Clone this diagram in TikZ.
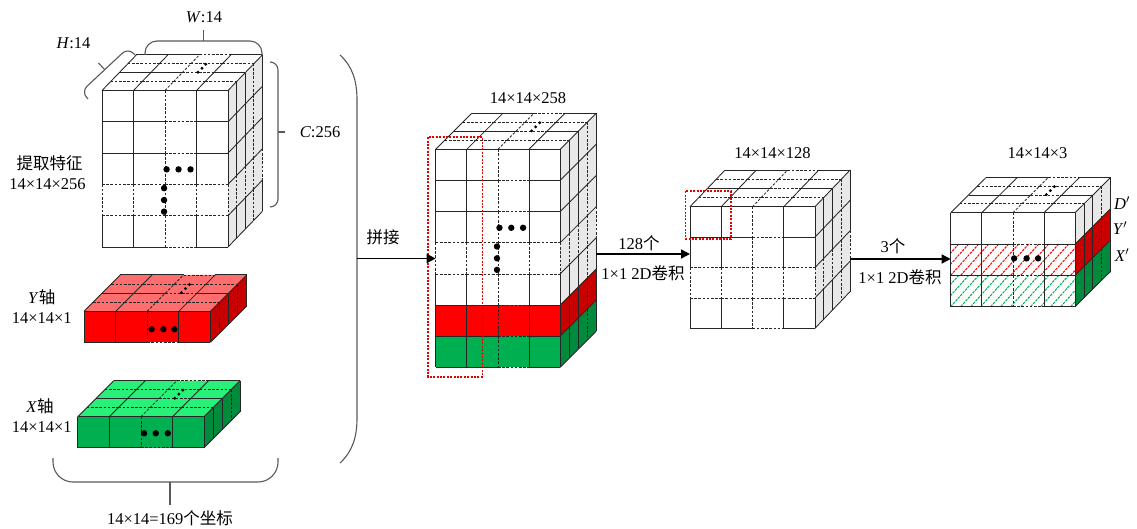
\documentclass[tikz,border=0pt]{standalone}
\usepackage{fontspec}
\setmainfont{Liberation Serif}
\newfontfamily\cjk{Noto Sans CJK SC}
\usetikzlibrary{arrows.meta}

\definecolor{rfront}{RGB}{255,0,0}
\definecolor{rtop}{RGB}{255,110,110}
\definecolor{rside}{RGB}{200,0,0}
\definecolor{gfront}{RGB}{0,176,80}
\definecolor{gtop}{RGB}{40,240,120}
\definecolor{gside}{RGB}{0,138,60}
\definecolor{sgray}{RGB}{232,232,232}

\tikzset{
  gs/.style={draw=black!85, line width=0.85pt},
  gd/.style={draw=black!85, line width=0.8pt, dash pattern=on 2.6pt off 1.6pt},
  brk/.style={draw=black!65, line width=1.1pt},
  flow/.style={draw=black, line width=1.4pt, -{Triangle[length=9pt,width=9pt]}},
  sel/.style={draw=red!90!black, line width=1.6pt, dash pattern=on 2pt off 1.4pt},
  lbl/.style={font=\fontsize{16.5}{19}\selectfont, inner sep=0pt},
  hr/.style={draw=red, line width=1pt, dash pattern=on 2.6pt off 1pt},
  hg/.style={draw=gfront, line width=1pt, dash pattern=on 2.6pt off 1pt},
}

% block parameters: front top-left x, y, cell width, cell height,
% depth step x, depth step y, rows, dashed row (0 = none)
\newcommand\setblk[8]{\def\bX{#1}\def\bY{#2}\def\bw{#3}\def\bh{#4}%
  \def\ba{#5}\def\bb{#6}\def\bn{#7}\def\ber{#8}}
% point of a block: column coordinate, row coordinate, depth layer
\newcommand\bp[3]{({\bX+(#1)*\bw+(#3)*\ba},{\bY+(#2)*\bh-(#3)*\bb})}
\newcommand\seg[3]{\ifnum#1=1 \draw[gd] #2 -- #3;\else \draw[gs] #2 -- #3;\fi}

\newcommand\blkfaces[3]{%
  \fill[#1] \bp{0}{0}{0} -- \bp{4}{0}{0} -- \bp{4}{\bn}{0} -- \bp{0}{\bn}{0} -- cycle;
  \fill[#2] \bp{0}{0}{0} -- \bp{4}{0}{0} -- \bp{4}{0}{4} -- \bp{0}{0}{4} -- cycle;
  \fill[#3] \bp{4}{0}{0} -- \bp{4}{0}{4} -- \bp{4}{\bn}{4} -- \bp{4}{\bn}{0} -- cycle;}
\newcommand\rowfill[3]{%
  \fill[#2] \bp{0}{#1-1}{0} -- \bp{4}{#1-1}{0} -- \bp{4}{#1}{0} -- \bp{0}{#1}{0} -- cycle;
  \fill[#3] \bp{4}{#1-1}{0} -- \bp{4}{#1-1}{4} -- \bp{4}{#1}{4} -- \bp{4}{#1}{0} -- cycle;}

\newcommand\blkgrid{%
  % front face
  \foreach \ii in {0,...,4}{\foreach \rr in {1,...,\bn}{%
    \pgfmathtruncatemacro\dd{or(\ii==2,\rr==\ber)}%
    \seg{\dd}{\bp{\ii}{\rr-1}{0}}{\bp{\ii}{\rr}{0}}}}%
  \foreach \jj in {0,...,\bn}{\foreach \cc in {1,...,4}{%
    \pgfmathtruncatemacro\dd{or(and(\jj>0,\cc==3),and(\ber>0,or(\jj==\ber-1,\jj==\ber)))}%
    \seg{\dd}{\bp{\cc-1}{\jj}{0}}{\bp{\cc}{\jj}{0}}}}%
  % top face
  \foreach \kk in {1,...,4}{\foreach \cc in {1,...,4}{%
    \pgfmathtruncatemacro\dd{or(or(\kk==1,\kk==3),\cc==3)}%
    \seg{\dd}{\bp{\cc-1}{0}{\kk}}{\bp{\cc}{0}{\kk}}}}%
  \foreach \ii in {0,...,4}{\foreach \kk in {1,...,4}{%
    \pgfmathtruncatemacro\dd{\ii==2}%
    \seg{\dd}{\bp{\ii}{0}{\kk-1}}{\bp{\ii}{0}{\kk}}}}%
  % side face
  \foreach \kk in {1,...,4}{\foreach \rr in {1,...,\bn}{%
    \pgfmathtruncatemacro\dd{or(\kk==3,\rr==\ber)}%
    \seg{\dd}{\bp{4}{\rr-1}{\kk}}{\bp{4}{\rr}{\kk}}}}%
  \foreach \jj in {1,...,\bn}{\foreach \kk in {1,...,4}{%
    \seg{0}{\bp{4}{\jj}{\kk-1}}{\bp{4}{\jj}{\kk}}}}%
}
\newcommand\bigdot[2]{\fill \bp{#1}{#2}{0} circle[radius=3.2pt];}
\newcommand\topdots{%
  \fill \bp{2.49}{0}{2.05} circle[radius=1.6pt];
  \fill \bp{2.49}{0}{2.5} circle[radius=1.6pt];
  \fill \bp{2.49}{0}{2.95} circle[radius=1.6pt];}
\newcommand\ellipsisdots{%
  \bigdot{2.05}{2.52}\bigdot{2.43}{2.52}\bigdot{2.81}{2.52}%
  \bigdot{1.97}{3.12}\bigdot{1.97}{3.5}\bigdot{1.97}{3.87}\topdots}

\begin{document}
\begin{tikzpicture}[x=1pt,y=-1pt]
\useasboundingbox (0,0) rectangle (1137,529);

% ---- extracted feature map 14x14x256
\setblk{102}{90.5}{31.5}{31.3}{8.6}{8.9}{5}{4}
\blkfaces{white}{white}{sgray}
\blkgrid
\ellipsisdots

% ---- Y-axis map
\setblk{84}{311.3}{31.6}{31}{9.1}{9.1}{1}{0}
\blkfaces{rfront}{rtop}{rside}
\blkgrid
\bigdot{2.14}{0.58}\bigdot{2.51}{0.58}\bigdot{2.86}{0.58}\topdots

% ---- X-axis map
\setblk{77.7}{416.7}{31.6}{31}{9}{9}{1}{0}
\blkfaces{gfront}{gtop}{gside}
\blkgrid
\bigdot{2.1}{0.535}\bigdot{2.47}{0.535}\bigdot{2.85}{0.535}\topdots

% ---- concatenated map 14x14x258
\setblk{435.7}{149.3}{31.1}{31.15}{9}{9}{7}{4}
\blkfaces{white}{white}{sgray}
\rowfill{6}{rfront}{rside}
\rowfill{7}{gfront}{gside}
\blkgrid
\ellipsisdots

% ---- 14x14x128
\setblk{690}{206.7}{31.25}{30.4}{8.75}{9.15}{4}{3}
\blkfaces{white}{white}{sgray}
\blkgrid

% ---- output 14x14x3
\setblk{950.7}{212.7}{31.1}{31.3}{8.9}{8.85}{3}{0}
\blkfaces{white}{white}{sgray}
\rowfill{2}{white}{rside}
\rowfill{3}{white}{gside}
\begin{scope}
  \clip \bp{0}{1}{0} rectangle \bp{4}{2}{0};
  \foreach \t in {-30,-20,...,130} \draw[hr] ({\bX+\t},{\bY+2*\bh}) -- ++(28,-31.3);
\end{scope}
\begin{scope}
  \clip \bp{0}{2}{0} rectangle \bp{4}{3}{0};
  \foreach \t in {-30,-20,...,130} \draw[hg] ({\bX+\t},{\bY+3*\bh}) -- ++(28,-31.3);
\end{scope}
\blkgrid
\bigdot{2.04}{1.46}\bigdot{2.44}{1.46}\bigdot{2.81}{1.46}\topdots

% ---- selection windows
\draw[sel] (427.7,137.3) rectangle (482.3,376.7);
\draw[sel] (685.5,191.3) rectangle (730.7,239.3);

% ---- braces
\draw[brk, rounded corners=8pt] (88,99) -- (81.2,91.7) -- (128.2,47.7) -- (135,55);
\draw[brk] (104.7,69.7) -- (98.5,63);
\draw[brk, rounded corners=12pt] (145,55) -- (145,41) -- (262,41) -- (262,55);
\draw[brk] (203.5,41) -- (203.5,30);
\draw[brk, rounded corners=8pt] (270,62) -- (278,62) -- (278,207) -- (270,207);
\draw[brk] (278,132) -- (285,132);
\draw[brk, rounded corners=20pt] (53,458) -- (53,482) -- (278,482) -- (278,458);
\draw[brk] (170,482) -- (170,505);
\draw[brk] (340,55) .. controls (352,66) and (357,80) .. (357,100) -- (357,418)
  .. controls (357,438) and (352,452) .. (340,463);

% ---- flow arrows
\coordinate (parenmid) at (357,258.5);
\coordinate (catIn) at (435.7,258.5);
\coordinate (catOut) at (596,254);
\coordinate (midIn) at (690,254);
\coordinate (midOut) at (850,259);
\coordinate (outIn) at (950.7,259);
\draw[flow] (parenmid) -- (catIn);
\draw[flow] (catOut) -- (midIn);
\draw[flow] (midOut) -- (outIn);

% ---- labels
\node[lbl] (lW) at (204,17) {\textit{W}:14};
\node[lbl] (lH) at (73.5,43) {\textit{H}:14};
\node[lbl] (lC) at (320,132) {\textit{C}:256};
\node[lbl] (lfeat) at (49.5,163) {{\cjk 提取特征}};
\node[lbl] (lfeatd) at (47.5,184.5) {14×14×256};
\node[lbl] (lY) at (41.7,297) {\textit{Y}{\cjk 轴}};
\node[lbl] (lYd) at (41.7,318.5) {14×14×1};
\node[lbl] (lX) at (40,406) {\textit{X}{\cjk 轴}};
\node[lbl] (lXd) at (41.7,427) {14×14×1};
\node[lbl] (lcoord) at (170,518) {14×14=169{\cjk 个坐标}};
\node[lbl] (lcat) at (383,237) {{\cjk 拼接}};
\node[lbl] (lcatd) at (528,98) {14×14×258};
\node[lbl] (l128) at (639,243) {128{\cjk 个}};
\node[lbl] (lconvA) at (643,273.5) {1×1 2D{\cjk 卷积}};
\node[lbl] (lmidd) at (772.5,152.7) {14×14×128};
\node[lbl] (l3) at (893,246) {3{\cjk 个}};
\node[lbl] (lconvB) at (900,277) {1×1 2D{\cjk 卷积}};
\node[lbl] (loutd) at (1037.5,153.3) {14×14×3};
\node[lbl] (lD) at (1122,203) {\textit{D}$'$};
\node[lbl] (lYp) at (1120,228.5) {\textit{Y}$'$};
\node[lbl] (lXp) at (1122,255) {\textit{X}$'$};
\end{tikzpicture}
\end{document}
